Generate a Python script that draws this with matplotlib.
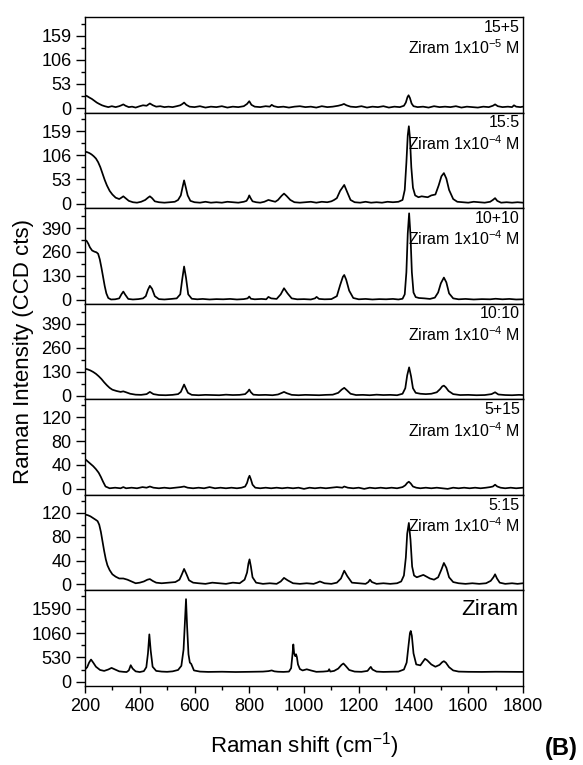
import matplotlib.pyplot as plt
from matplotlib.ticker import MultipleLocator

plt.rcParams['font.family'] = ['Liberation Sans', 'DejaVu Sans']
plt.rcParams['mathtext.fontset'] = 'custom'
plt.rcParams['mathtext.rm'] = 'Liberation Sans'
plt.rcParams['mathtext.it'] = 'Liberation Sans:italic'

# ==========================================
# 1. Spectra (cm-1, CCD cts)
# ==========================================

x_15p5 = [200, 208, 216, 225, 234, 243, 252, 262, 272, 285,
          298, 312, 325, 333, 340, 348, 360, 372, 385, 400,
          412, 425, 437, 448, 460, 475, 490, 505, 520, 535,
          548, 556, 562, 570, 582, 600, 620, 640, 660, 680,
          700, 720, 740, 760, 780, 792, 800, 808, 820, 840,
          860, 875, 882, 890, 905, 925, 945, 965, 985, 1005,
          1025, 1045, 1065, 1085, 1105, 1125, 1138, 1146, 1155, 1170,
          1190, 1210, 1230, 1250, 1270, 1290, 1310, 1330, 1350, 1365,
          1372, 1378, 1382, 1387, 1393, 1400, 1415, 1435, 1455, 1475,
          1495, 1515, 1535, 1555, 1575, 1595, 1615, 1635, 1655, 1675,
          1690, 1698, 1708, 1725, 1745, 1760, 1767, 1775, 1790, 1800]
y_15p5 = [28, 26, 23, 20, 16, 12, 9, 6, 4, 2,
          4, 2, 4, 6, 8, 5, 2, 3, 1, 4,
          6, 5, 10, 6, 3, 4, 2, 3, 2, 4,
          6, 9, 12, 7, 3, 2, 4, 1, 3, 2,
          4, 1, 3, 2, 4, 9, 15, 7, 3, 2,
          4, 3, 7, 4, 2, 3, 1, 3, 4, 2,
          3, 1, 4, 2, 3, 5, 7, 9, 6, 3,
          2, 4, 1, 3, 2, 4, 1, 3, 2, 5,
          12, 24, 28, 22, 10, 4, 2, 3, 1, 4,
          2, 3, 2, 4, 1, 3, 2, 1, 3, 2,
          5, 8, 4, 2, 3, 2, 6, 3, 2, 3]

x_15c5 = [200, 208, 216, 224, 232, 240, 248, 256, 264, 272,
          280, 290, 300, 312, 325, 333, 340, 348, 360, 375,
          390, 405, 420, 430, 437, 445, 455, 470, 490, 510,
          528, 540, 550, 556, 562, 568, 575, 585, 600, 620,
          640, 660, 680, 700, 720, 740, 760, 780, 790, 796,
          800, 805, 812, 825, 840, 855, 870, 882, 895, 905,
          918, 927, 936, 950, 965, 985, 1005, 1025, 1045, 1065,
          1085, 1100, 1110, 1120, 1132, 1147, 1158, 1170, 1185, 1205,
          1225, 1245, 1265, 1285, 1305, 1325, 1345, 1360, 1368, 1374,
          1379, 1383, 1387, 1392, 1398, 1406, 1418, 1430, 1440, 1452,
          1465, 1480, 1492, 1502, 1511, 1520, 1530, 1545, 1560, 1580,
          1600, 1620, 1640, 1660, 1680, 1690, 1698, 1706, 1720, 1740,
          1760, 1780, 1800]
y_15c5 = [114, 113, 111, 108, 104, 99, 91, 80, 66, 52,
          40, 28, 20, 13, 10, 13, 16, 12, 6, 3,
          2, 4, 8, 13, 16, 12, 5, 3, 2, 3,
          4, 8, 18, 35, 51, 36, 18, 6, 3, 2,
          4, 2, 3, 2, 4, 3, 2, 4, 6, 12,
          18, 12, 5, 3, 2, 4, 8, 6, 4, 8,
          17, 22, 17, 8, 3, 2, 3, 4, 2, 4,
          3, 5, 8, 12, 28, 41, 25, 8, 3, 2,
          4, 2, 3, 2, 4, 3, 4, 8, 30, 90,
          150, 170, 145, 80, 35, 18, 14, 16, 15, 14,
          18, 20, 40, 60, 67, 55, 30, 10, 4, 3,
          2, 4, 3, 2, 4, 8, 12, 6, 2, 3,
          2, 3, 2]

x_10p10 = [200, 206, 212, 218, 226, 234, 242, 248, 254, 260,
           266, 272, 278, 285, 295, 310, 325, 333, 340, 347,
           358, 375, 395, 412, 422, 430, 437, 445, 455, 470,
           490, 515, 535, 548, 555, 562, 569, 577, 590, 610,
           630, 655, 680, 705, 730, 755, 780, 794, 800, 806,
           820, 845, 862, 870, 880, 900, 915, 927, 940, 955,
           975, 1000, 1025, 1040, 1046, 1055, 1075, 1100, 1120, 1132,
           1142, 1147, 1154, 1165, 1180, 1200, 1225, 1250, 1275, 1300,
           1325, 1345, 1360, 1368, 1374, 1379, 1384, 1389, 1394, 1400,
           1408, 1420, 1440, 1460, 1478, 1490, 1500, 1511, 1520, 1530,
           1545, 1565, 1590, 1620, 1650, 1680, 1700, 1725, 1750, 1775,
           1800]
y_10p10 = [325, 320, 305, 285, 268, 262, 258, 250, 220, 175,
           125, 75, 35, 10, 2, 3, 8, 30, 45, 28,
           5, 2, 4, 8, 20, 55, 76, 60, 20, 4,
           2, 5, 8, 30, 110, 181, 120, 30, 6, 3,
           5, 2, 4, 3, 5, 2, 4, 8, 18, 6,
           3, 5, 3, 16, 8, 5, 30, 63, 35, 8,
           3, 4, 2, 8, 16, 5, 3, 4, 20, 80,
           125, 135, 110, 50, 10, 3, 5, 2, 4, 3,
           5, 2, 6, 30, 150, 360, 470, 350, 150, 40,
           15, 10, 8, 5, 12, 40, 90, 121, 95, 35,
           8, 3, 5, 2, 4, 3, 6, 3, 5, 2,
           3]

x_10c10 = [200, 210, 220, 230, 240, 250, 260, 270, 280, 290,
           300, 315, 330, 340, 350, 365, 385, 405, 425, 437,
           450, 470, 495, 520, 540, 550, 556, 562, 568, 576,
           590, 615, 640, 665, 690, 715, 740, 765, 785, 795,
           800, 806, 815, 835, 860, 885, 905, 918, 927, 937,
           955, 980, 1005, 1030, 1055, 1080, 1105, 1125, 1138, 1147,
           1156, 1170, 1190, 1215, 1240, 1265, 1290, 1315, 1340, 1360,
           1370, 1377, 1384, 1391, 1398, 1408, 1425, 1445, 1465, 1485,
           1497, 1505, 1511, 1518, 1528, 1545, 1570, 1600, 1630, 1660,
           1685, 1698, 1710, 1735, 1760, 1785, 1800]
y_10c10 = [146, 142, 136, 128, 118, 105, 90, 72, 56, 42,
           32, 25, 20, 23, 18, 10, 5, 4, 8, 20,
           8, 3, 2, 4, 8, 20, 40, 60, 40, 15,
           4, 2, 4, 3, 2, 5, 3, 4, 8, 22,
           33, 18, 5, 3, 4, 2, 6, 14, 20, 13,
           4, 2, 4, 3, 2, 4, 5, 15, 33, 42,
           30, 10, 3, 4, 2, 5, 3, 4, 2, 10,
           40, 110, 153, 105, 40, 15, 10, 8, 10, 18,
           35, 50, 54, 45, 25, 8, 3, 4, 2, 3,
           8, 18, 6, 3, 2, 4, 3]

x_5p15 = [200, 210, 220, 230, 240, 250, 258, 266, 275, 290,
          310, 330, 340, 350, 370, 390, 410, 425, 437, 450,
          470, 490, 510, 530, 550, 562, 575, 595, 615, 635,
          655, 675, 695, 715, 735, 755, 772, 785, 792, 797,
          801, 806, 812, 822, 840, 860, 880, 900, 920, 940,
          960, 980, 1000, 1020, 1040, 1060, 1080, 1100, 1120, 1140,
          1147, 1160, 1180, 1200, 1220, 1240, 1260, 1280, 1300, 1320,
          1340, 1360, 1370, 1377, 1383, 1390, 1398, 1410, 1425, 1445,
          1465, 1485, 1505, 1525, 1545, 1565, 1585, 1605, 1625, 1645,
          1665, 1680, 1690, 1698, 1706, 1718, 1735, 1755, 1775, 1800]
y_5p15 = [50, 46, 42, 38, 33, 27, 20, 12, 4, 1,
          2, 1, 3, 1, 2, 1, 3, 2, 4, 2,
          1, 2, 1, 2, 3, 4, 2, 1, 2, 1,
          3, 1, 2, 1, 2, 1, 2, 4, 10, 18,
          22, 16, 7, 2, 1, 2, 1, 2, 1, 2,
          1, 2, 0, 2, 1, 2, 1, 2, 3, 2,
          4, 2, 1, 2, 0, 2, 1, 2, 1, 2,
          1, 3, 6, 10, 12, 9, 4, 2, 1, 2,
          1, 2, 1, 0, 2, 1, 2, 1, 2, 1,
          2, 3, 4, 7, 4, 2, 1, 2, 1, 2]

x_5c15 = [200, 210, 220, 230, 240, 246, 252, 258, 264, 270,
          276, 282, 290, 300, 312, 325, 340, 355, 370, 385,
          400, 415, 428, 437, 447, 460, 480, 505, 530, 545,
          553, 562, 570, 580, 595, 615, 640, 665, 690, 715,
          740, 765, 783, 792, 797, 801, 806, 812, 825, 850,
          875, 900, 915, 927, 940, 960, 985, 1010, 1035, 1048,
          1058, 1075, 1100, 1120, 1135, 1147, 1158, 1175, 1200, 1225,
          1235, 1241, 1248, 1265, 1290, 1315, 1340, 1355, 1365, 1372,
          1377, 1383, 1389, 1395, 1402, 1412, 1424, 1436, 1448, 1460,
          1475, 1490, 1502, 1511, 1520, 1530, 1545, 1565, 1590, 1615,
          1640, 1665, 1682, 1692, 1698, 1705, 1715, 1735, 1760, 1780,
          1800]
y_5c15 = [117, 116, 114, 111, 108, 106, 100, 88, 72, 56,
          42, 32, 24, 17, 13, 10, 10, 8, 5, 2,
          3, 5, 8, 9, 6, 3, 2, 3, 4, 8,
          16, 26, 18, 7, 3, 2, 1, 3, 2, 1,
          3, 2, 8, 20, 35, 42, 30, 12, 3, 1,
          2, 1, 5, 11, 7, 2, 1, 2, 1, 3,
          5, 2, 1, 3, 10, 23, 14, 3, 2, 1,
          4, 8, 4, 1, 2, 1, 2, 5, 15, 45,
          85, 103, 75, 30, 15, 12, 14, 16, 13, 10,
          8, 12, 25, 36, 28, 12, 4, 2, 1, 2,
          1, 2, 6, 12, 17, 10, 3, 1, 2, 1,
          2]

x_ziram = [200, 208, 215, 222, 230, 240, 255, 270, 285, 297,
           310, 325, 340, 352, 360, 367, 374, 385, 400, 415,
           424, 430, 435, 440, 447, 460, 480, 500, 520, 540,
           552, 560, 565, 569, 573, 578, 583, 588, 598, 620,
           650, 700, 750, 800, 850, 870, 882, 892, 905, 925,
           945, 953, 958, 961, 964, 968, 971, 974, 978, 985,
           995, 1010, 1025, 1045, 1070, 1088, 1092, 1096, 1110, 1125,
           1137, 1144, 1152, 1165, 1185, 1210, 1232, 1240, 1244, 1250,
           1265, 1290, 1320, 1345, 1365, 1375, 1382, 1387, 1390, 1394,
           1400, 1410, 1425, 1437, 1442, 1450, 1465, 1480, 1495, 1505,
           1511, 1518, 1530, 1545, 1565, 1600, 1650, 1700, 1750, 1800]
y_ziram = [270, 320, 420, 486, 420, 330, 260, 240, 270, 305,
           270, 230, 220, 215, 250, 363, 290, 230, 215, 235,
           320, 620, 1031, 680, 330, 240, 225, 220, 230, 260,
           350, 700, 1300, 1793, 1200, 600, 420, 392, 250, 225,
           218, 222, 216, 220, 225, 235, 250, 230, 222, 218,
           225, 300, 600, 813, 620, 560, 600, 540, 380, 280,
           250, 275, 250, 220, 225, 235, 276, 225, 240, 290,
           370, 400, 350, 260, 225, 220, 240, 300, 327, 270,
           225, 218, 222, 225, 270, 420, 800, 1060, 1104, 1000,
           620, 380, 360, 460, 501, 470, 380, 330, 370, 430,
           450, 420, 320, 250, 225, 220, 218, 222, 220, 218]

sample_labels = ["15+5", "15:5", "10+10", "10:10", "5+15", "5:15", "Ziram"]
conc_labels = ["Ziram 1x10$^{-5}$ M", "Ziram 1x10$^{-4}$ M", "Ziram 1x10$^{-4}$ M",
               "Ziram 1x10$^{-4}$ M", "Ziram 1x10$^{-4}$ M", "Ziram 1x10$^{-4}$ M", ""]
y_ticks = [[0, 53, 106, 159], [0, 53, 106, 159], [0, 130, 260, 390], [0, 130, 260, 390],
           [0, 40, 80, 120], [0, 40, 80, 120], [0, 530, 1060, 1590]]

spectra = [(x_15p5, y_15p5), (x_15c5, y_15c5), (x_10p10, y_10p10), (x_10c10, y_10c10),
           (x_5p15, y_5p15), (x_5c15, y_5c15), (x_ziram, y_ziram)]

# ==========================================
# 2. Layout (stacked panels, no gap)
# ==========================================

y_lims = [(-10, 200), (-10, 200), (-21, 498), (-20, 498),
          (-10, 150), (-10, 150), (-87, 1982)]

fig = plt.figure(figsize=(5.83, 7.65), dpi=100)
left = 85 / 583
width = 438 / 583
top = 1 - 17 / 765
bottom = 1 - 686 / 765
h = (top - bottom) / len(spectra)

for i, (xs, ys) in enumerate(spectra):
    ax = fig.add_axes([left, top - (i + 1) * h, width, h])
    ax.plot(xs, ys, color='black', linewidth=1.25)
    ax.set_xlim(200, 1800)
    ax.set_ylim(*y_lims[i])

    ticks = y_ticks[i]
    ax.set_yticks(ticks)
    ax.yaxis.set_minor_locator(MultipleLocator((ticks[1] - ticks[0]) / 2))
    ax.xaxis.set_major_locator(MultipleLocator(200))
    ax.xaxis.set_minor_locator(MultipleLocator(100))
    ax.tick_params(axis='y', which='major', direction='out', length=6.5, width=1, labelsize=13, pad=3)
    ax.tick_params(axis='y', which='minor', direction='out', length=3, width=1)

    for s in ax.spines.values():
        s.set_linewidth(1.0)

    if i < len(spectra) - 1:
        ax.tick_params(axis='x', which='both', bottom=False, labelbottom=False)
        ax.text(0.993, 0.846, sample_labels[i], transform=ax.transAxes,
                ha='right', va='baseline', fontsize=11.5)
        ax.text(0.993, 0.61, conc_labels[i], transform=ax.transAxes,
                ha='right', va='baseline', fontsize=11.5)
    else:
        ax.tick_params(axis='x', which='major', direction='out', length=5, width=1, labelsize=13)
        ax.tick_params(axis='x', which='minor', direction='out', length=3, width=1)
        ax.text(0.989, 0.74, sample_labels[i], transform=ax.transAxes,
                ha='right', va='baseline', fontsize=16)

fig.text(0.04, (top + bottom) / 2, "Raman Intensity (CCD cts)", rotation=90,
         ha='center', va='center', fontsize=16)
fig.text(left + width / 2, 0.016, "Raman shift (cm$^{-1}$)",
         ha='center', va='baseline', fontsize=16)
fig.text(0.935, 0.013, "(B)", ha='left', va='baseline', fontsize=17, fontweight='bold')

fig.savefig("out.png", dpi=100)
